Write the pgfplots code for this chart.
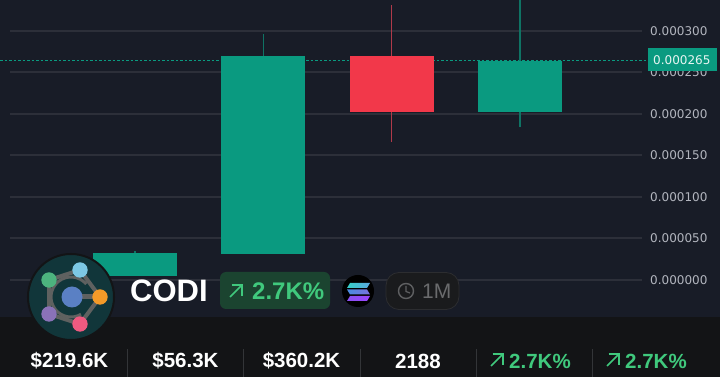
\documentclass[border=0pt]{standalone}
\usepackage{pgfplots}
\pgfplotsset{compat=1.18}
\usepackage{fontspec}
\setmainfont{Liberation Sans}
\newfontfamily\djv{DejaVu Sans}
\definecolor{bgc}{HTML}{181C27}
\definecolor{footc}{HTML}{131416}
\definecolor{gridc}{HTML}{2C2F39}
\definecolor{upc}{HTML}{0A9A80}
\definecolor{upw}{HTML}{0F7364}
\definecolor{dnc}{HTML}{F2384A}
\definecolor{dnw}{HTML}{B03A4A}
\definecolor{lblc}{HTML}{B2B5BE}
\definecolor{grn}{HTML}{40C97D}
\definecolor{pill}{HTML}{1B4430}
\definecolor{divc}{HTML}{333538}
\definecolor{linkc}{HTML}{5F6160}
\definecolor{logobg}{HTML}{11363A}
\definecolor{lblue}{HTML}{5A80C4}
\definecolor{lcyan}{HTML}{7CC8E4}
\definecolor{lgreen}{HTML}{4CB37E}
\definecolor{lorange}{HTML}{F39A28}
\definecolor{lpurple}{HTML}{8A72B8}
\definecolor{lpink}{HTML}{EE5A80}
\definecolor{sa}{HTML}{36D0C8}
\definecolor{sb}{HTML}{5AA8E0}
\definecolor{sc}{HTML}{4A8CE0}
\definecolor{sd}{HTML}{7A70E0}
\definecolor{se}{HTML}{8A50F0}
\definecolor{sf}{HTML}{9A45FF}
\definecolor{agebd}{HTML}{2C2D30}
\definecolor{agebg}{HTML}{1A1B1D}
\definecolor{agei}{HTML}{5F6062}
\definecolor{aget}{HTML}{6A6B6D}
\begin{document}
\begin{tikzpicture}
\useasboundingbox (0,0) rectangle (720pt,377pt);
\fill[bgc] (0,0) rectangle (720pt,377pt);
\begin{axis}[
  at={(0,0)},anchor=south west,
  scale only axis,width=720pt,height=377pt,
  xmin=-1.052,xmax=4.558,
  ymin=-0.000117,ymax=0.000337,
  axis line style={draw=none},
  axis y line*=right,
  axis x line*=bottom,
  xtick=\empty,
  scaled y ticks=false,
  ytick={0,0.00005,0.0001,0.00015,0.0002,0.00025,0.0003},
  yticklabels={0.000000,0.000050,0.000100,0.000150,0.000200,0.000250,0.000300},
  major tick length=0pt,
  yticklabel style={anchor=west,xshift=-70pt,text=lblc,font=\djv\fontsize{12}{14}\selectfont,inner xsep=0pt},
  clip=true,
]
% grid
\addplot[gridc,line width=2pt,forget plot] coordinates {(-0.974,0)(3.95,0)};
\addplot[gridc,line width=2pt,forget plot] coordinates {(-0.974,0.00005)(3.95,0.00005)};
\addplot[gridc,line width=2pt,forget plot] coordinates {(-0.974,0.0001)(3.95,0.0001)};
\addplot[gridc,line width=2pt,forget plot] coordinates {(-0.974,0.00015)(3.95,0.00015)};
\addplot[gridc,line width=2pt,forget plot] coordinates {(-0.974,0.0002)(3.95,0.0002)};
\addplot[gridc,line width=2pt,forget plot] coordinates {(-0.974,0.00025)(3.95,0.00025)};
\addplot[gridc,line width=2pt,forget plot] coordinates {(-0.974,0.0003)(3.95,0.0003)};
% last price
\addplot[color=upc,line width=1.1pt,dash pattern=on 2.5pt off 2pt] coordinates {(-1.052,0.000264)(4.0,0.000264)};
% wicks
\addplot[color=upw,line width=1.2pt] coordinates {(0,0.0000325)(0,0.000035)};
\addplot[color=upw,line width=1.2pt] coordinates {(1,0.000296)(1,0.00027)};
\addplot[color=dnw,line width=1.2pt] coordinates {(2,0.000166)(2,0.000331)};
\addplot[color=upw,line width=1.2pt] coordinates {(3,0.000184)(3,0.00035)};
% bodies
\addplot[fill=upc,draw=none] coordinates {(-0.327,0.0000048)(0.327,0.0000048)(0.327,0.0000325)(-0.327,0.0000325)} --cycle;
\addplot[fill=upc,draw=none] coordinates {(0.673,0.000031)(1.327,0.000031)(1.327,0.00027)(0.673,0.00027)} --cycle;
\addplot[fill=dnc,draw=none] coordinates {(1.673,0.000202)(2.327,0.000202)(2.327,0.000269)(1.673,0.000269)} --cycle;
\addplot[fill=upc,draw=none] coordinates {(2.673,0.000202)(3.327,0.000202)(3.327,0.000264)(2.673,0.000264)} --cycle;
\end{axis}
\begin{scope}[x=1pt,y=-1pt,shift={(0pt,377pt)}]
% price tag
\fill[upc] (648,48) rectangle (717,71.5);
\node[anchor=west,inner sep=0pt,text=white!90!upc,font=\djv\fontsize{12}{14}\selectfont] at (653,60) {0.000265};
% footer
\fill[footc] (0,317) rectangle (720,377);
\foreach \x in {127,243,360,476,592} \draw[divc,line width=0.8pt] (\x,349) -- (\x,377);
\def\fs{\bfseries\fontsize{20.5}{24}\selectfont}
\node[text=white,font=\fs,inner sep=0pt] at (69.5,361) {\$219.6K};
\node[text=white,font=\fs,inner sep=0pt] at (185.5,361) {\$56.3K};
\node[text=white,font=\fs,inner sep=0pt] at (301.5,361) {\$360.2K};
\node[text=white,font=\fs,inner sep=0pt] at (418,361) {2188};
\node[anchor=west,text=grn,font=\fs,inner sep=0pt] at (509,361) {2.7K\%};
\node[anchor=west,text=grn,font=\fs,inner sep=0pt] at (625,361) {2.7K\%};
\foreach \x in {491,607} {
  \draw[grn,line width=1.5pt] (\x,366) -- (\x+12,354);
  \draw[grn,line width=1.5pt] (\x+1.5,354) -- (\x+12,354) -- (\x+12,365);
}
% logo
\fill[logobg,draw=footc,line width=2pt] (71,297) circle (43);
\draw[linkc,line width=4pt] (49,280) -- (80,270) -- (100,297) -- (80,324) -- (49,314) -- cycle;
\draw[linkc,line width=5pt] (71,297) -- (100,297);
\draw[linkc,line width=3pt] (71,297) ++(-40:20) arc (-40:-300:20);
\fill[lblue] (72,297) circle (10.5);
\fill[lcyan] (80,270) circle (7.7);
\fill[lgreen] (49,280) circle (7.7);
\fill[lorange] (100,297) circle (7.7);
\fill[lpurple] (49,314) circle (7.7);
\fill[lpink] (80,324) circle (7.7);
% name
\node[anchor=west,text=white,inner sep=0pt,font=\bfseries\fontsize{31}{34}\selectfont] at (130,291) {CODI};
% change pill
\fill[pill,rounded corners=6pt] (220,272) rectangle (330,309);
\node[anchor=west,text=grn,inner sep=0pt,font=\bfseries\fontsize{24}{28}\selectfont] at (252,291) {2.7K\%};
\draw[grn,line width=1.5pt] (230,297) -- (242,285);
\draw[grn,line width=1.5pt] (231.5,285) -- (242,285) -- (242,296);
% solana
\fill[black] (358,291) circle (16);
\fill[left color=sa,right color=sb] (350,283) -- (370,283) -- (367,288) -- (347,288) -- cycle;
\fill[left color=sc,right color=sd] (347,289.5) -- (367,289.5) -- (370,294.5) -- (350,294.5) -- cycle;
\fill[left color=se,right color=sf] (350,296) -- (370,296) -- (367,301) -- (347,301) -- cycle;
% age pill
\draw[agebd,fill=agebg,line width=0.8pt,rounded corners=13pt] (386,272.5) rectangle (459,309.5);
\draw[agei,line width=1.4pt] (406,291) circle (7.5);
\draw[agei,line width=1.2pt] (406,286) -- (406,291.5) -- (410,293);
\node[anchor=west,text=aget,inner sep=0pt,font=\fontsize{21}{25}\selectfont] at (422,291) {1M};
\end{scope}
\end{tikzpicture}
\end{document}
